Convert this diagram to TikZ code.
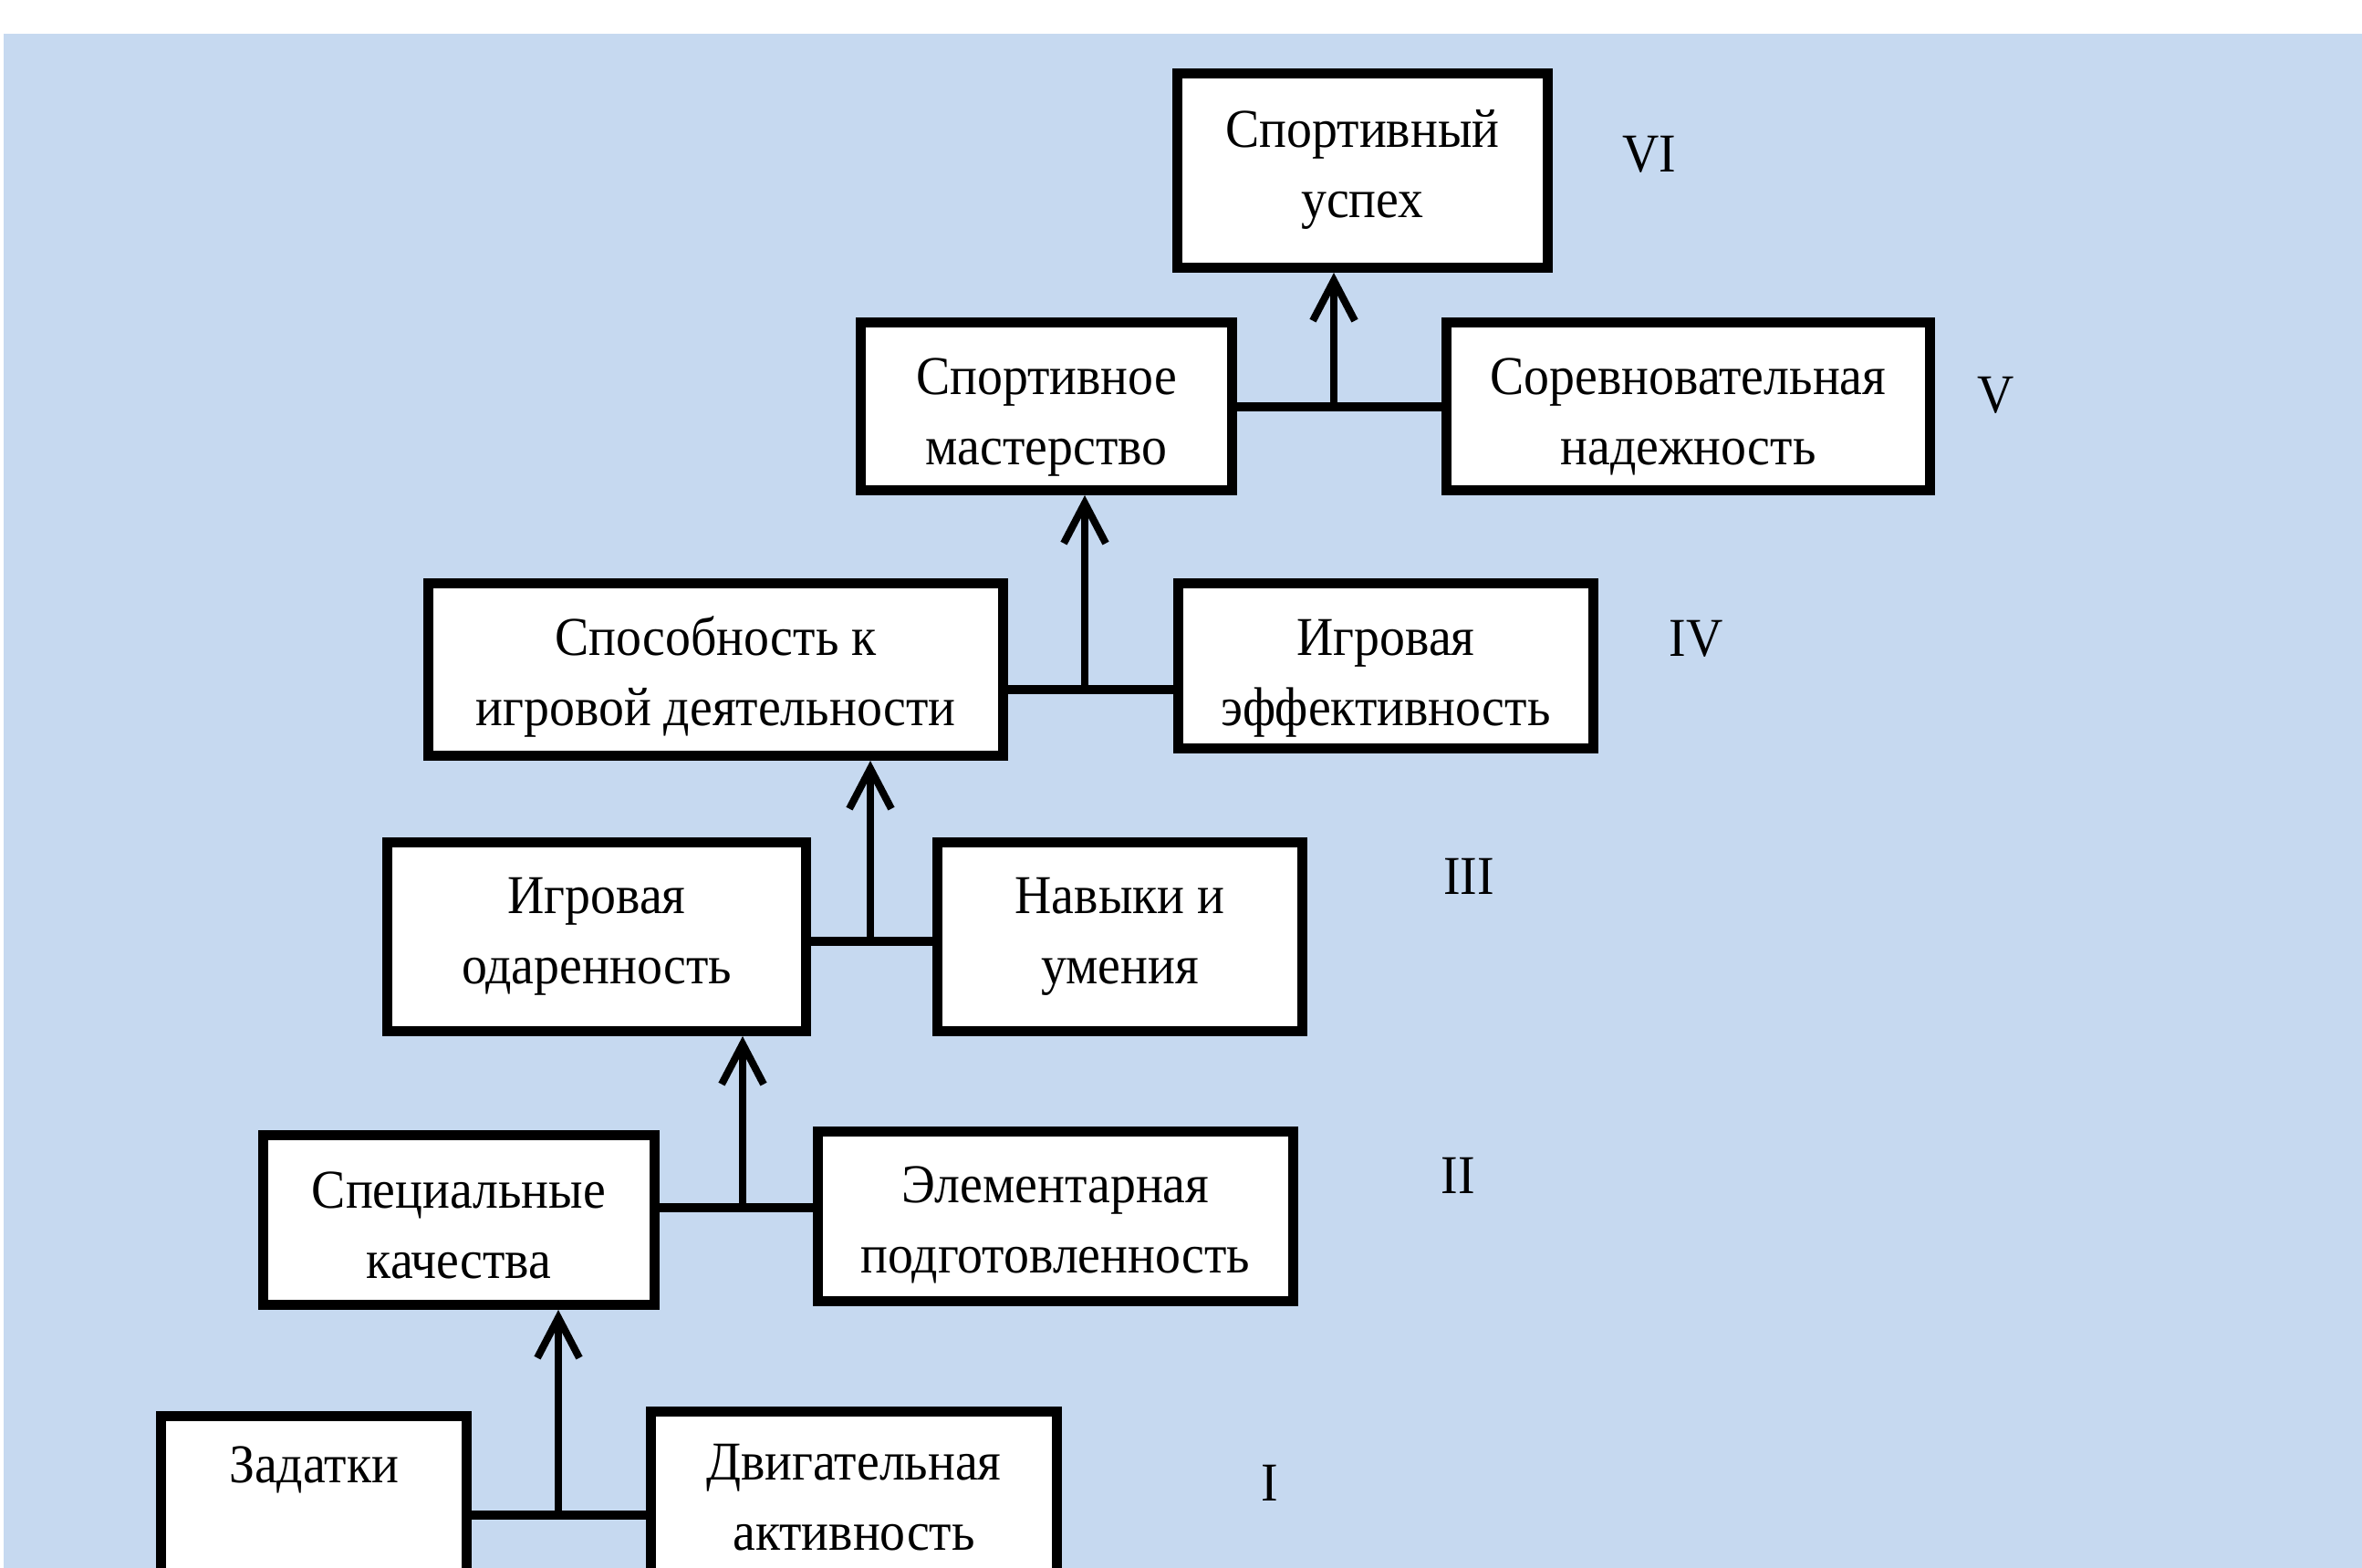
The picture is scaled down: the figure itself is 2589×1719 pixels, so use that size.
\documentclass[tikz,border=0pt]{standalone}
\usepackage{fontspec}
\setmainfont{Liberation Serif}[FakeStretch=0.93]
\usetikzlibrary{arrows.meta}
\definecolor{bgblue}{RGB}{198,217,240}
% box content: width and height in image pixels (1px = 0.25pt), text anchored at top
\newcommand{\bxt}[4][19.85pt]{\parbox[c][\dimexpr #3pt/4\relax][t]{\dimexpr #2pt/4\relax}{\centering\rule{0pt}{#1}#4}}
\begin{document}
\begin{tikzpicture}[x=0.25pt,y=-0.25pt,
  box/.style={draw=black, line width=2.8pt, fill=white, inner sep=0pt,
    font=\fontsize{15}{19.25}\selectfont},
  hline/.style={line width=2.5pt},
  arr/.style={line width=2pt, -{Straight Barb[length=11pt,width=11.5pt]}},
  lvl/.style={font=\fontsize{15}{19.25}\selectfont, inner sep=0pt}]
\useasboundingbox (0,0) rectangle (2589,1719);
\clip (0,0) rectangle (2589,1719);
\fill[white] (0,0) rectangle (2589,1719);
\fill[bgblue] (4,37) rectangle (2589,1719);

% level VI
\node[box] (sus) at (1493.5,187) {\bxt[20.3pt]{405.8}{212.8}{Спортивный\\успех}};
% level V
\node[box] (mast) at (1147,445.5) {\bxt{406.8}{183.8}{Спортивное\\мастерство}};
\node[box] (rel) at (1850.5,445.5) {\bxt{529.8}{183.8}{Соревновательная\\надежность}};
% level IV
\node[box] (spos) at (784.5,734) {\bxt{629.8}{188.8}{Способность к\\игровой деятельности}};
\node[box] (eff) at (1519,730) {\bxt{454.8}{180.8}{Игровая\\эффективность}};
% level III
\node[box] (odar) at (654,1027) {\bxt[19.5pt]{458.8}{206.8}{Игровая\\одаренность}};
\node[box] (navy) at (1227.5,1027) {\bxt[19.5pt]{399.8}{206.8}{Навыки и\\умения}};
% level II
\node[box] (spec) at (503,1337.5) {\bxt{428.8}{185.8}{Специальные\\качества}};
\node[box] (elem) at (1157,1333.5) {\bxt[19.5pt]{520.8}{185.8}{Элементарная\\подготовленность}};
% level I
\node[box] (zad) at (344,1644) {\bxt[18.3pt]{334.8}{182.8}{Задатки}};
\node[box] (dvig) at (936,1641.5) {\bxt[18.8pt]{444.8}{187.8}{Двигательная\\активность}};

% junctions
\coordinate (j5) at (1462,446);
\coordinate (j4) at (1189,756);
\coordinate (j3) at (954,1032);
\coordinate (j2) at (814,1324);
\coordinate (j1) at (612,1661);

\draw[hline] (mast.east |- j5) -- (rel.west |- j5);
\draw[arr] (j5) -- (sus.south -| j5);
\draw[hline] (spos.east |- j4) -- (eff.west |- j4);
\draw[arr] (j4) -- (mast.south -| j4);
\draw[hline] (odar.east |- j3) -- (navy.west |- j3);
\draw[arr] (j3) -- (spos.south -| j3);
\draw[hline] (spec.east |- j2) -- (elem.west |- j2);
\draw[arr] (j2) -- (odar.south -| j2);
\draw[hline] (zad.east |- j1) -- (dvig.west |- j1);
\draw[arr] (j1) -- (spec.south -| j1);

% level labels
\node[lvl] (l6) at (1808,169) {VI};
\node[lvl] (l5) at (2188,433) {V};
\node[lvl] (l4) at (1859,700) {IV};
\node[lvl] (l3) at (1610,961) {III};
\node[lvl] (l2) at (1598,1289) {II};
\node[lvl] (l1) at (1392,1626) {I};
\end{tikzpicture}
\end{document}
